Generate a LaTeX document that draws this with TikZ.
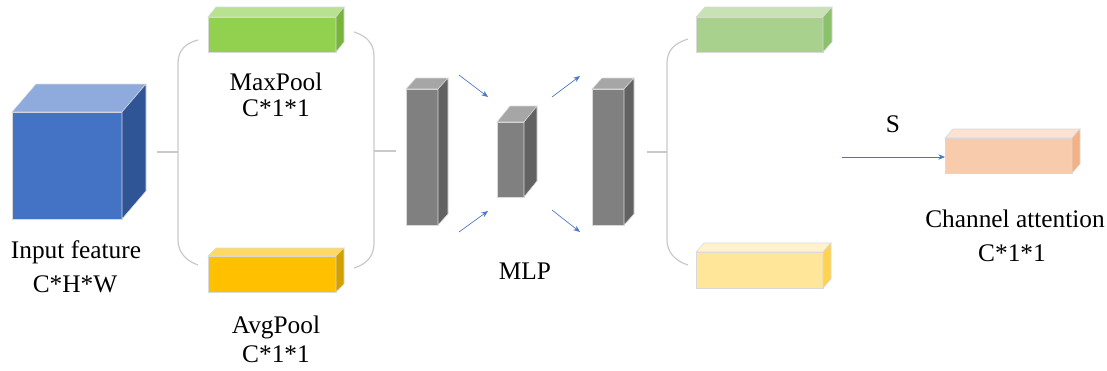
\documentclass[tikz,border=0pt]{standalone}
\usepackage{fontspec}
\setmainfont{Liberation Serif}
\usetikzlibrary{arrows.meta,calc}
\definecolor{bluef}{HTML}{4472C4}\definecolor{bluet}{HTML}{8FAADC}\definecolor{blues}{HTML}{2F5597}
\definecolor{greenf}{HTML}{92D050}\definecolor{greent}{HTML}{B8E28F}\definecolor{greens}{HTML}{76B43A}
\definecolor{orangef}{HTML}{FFC000}\definecolor{oranget}{HTML}{FFD966}\definecolor{oranges}{HTML}{D4A000}
\definecolor{grayf}{HTML}{808080}\definecolor{grayt}{HTML}{A6A6A6}\definecolor{grays}{HTML}{626262}
\definecolor{lgreenf}{HTML}{A9D18E}\definecolor{lgreent}{HTML}{C8E2B6}\definecolor{lgreens}{HTML}{8BC16A}
\definecolor{lyellowf}{HTML}{FFE699}\definecolor{lyellowt}{HTML}{FFF2CC}\definecolor{lyellows}{HTML}{FFD34F}
\definecolor{peachf}{HTML}{F8CBAD}\definecolor{peacht}{HTML}{FBE2D2}\definecolor{peachs}{HTML}{F4B183}
\definecolor{brk}{HTML}{C9C9C9}
\definecolor{arr}{HTML}{4A74C6}
\newcommand\cub[8]{%
  \node[face, fill=#1f, anchor=north west, minimum width={(#4-#2)*0.75pt}, minimum height={(#5-#3)*0.75pt}] (#8) at (#2,#3) {};
  \draw[face, fill=#1t] (#8.north west) -- ++(#6,#7) -- ($(#8.north east)+(#6,#7)$) -- (#8.north east) -- cycle;
  \draw[face, fill=#1s] (#8.north east) -- ($(#8.north east)+(#6,#7)$) -- ($(#8.south east)+(#6,#7)$) -- (#8.south east) -- cycle;
}
\begin{document}
\begin{tikzpicture}[x=0.75pt,y=-0.75pt,
  face/.style={draw=white!85!black, line width=0.4pt, inner sep=0pt, outer sep=0pt},
  brack/.style={draw=brk, line width=0.9pt},
  flow/.style={draw=arr, line width=0.5pt, -{Stealth[length=5pt,width=4pt]}},
  lbl/.style={font=\fontsize{19}{21}\selectfont, anchor=base, inner sep=0pt}]
\useasboundingbox (0,0) rectangle (1107,371);
% cubes
\cub{blue}{12}{112}{122}{219}{24}{-28}{input}
\cub{green}{208}{17}{336}{52}{8}{-10}{maxp}
\cub{orange}{208}{256}{336}{292}{8}{-8}{avgp}
\cub{gray}{406}{89}{438}{225}{10}{-11}{fc1}
\cub{gray}{497}{122}{524}{197}{13}{-16}{fc2}
\cub{gray}{592}{89}{624}{225}{10}{-11}{fc3}
\cub{lgreen}{696}{17}{823}{52}{9}{-10}{outm}
\cub{lyellow}{696}{252}{823}{288}{8}{-9}{outa}
\cub{peach}{945}{138}{1072}{173}{8}{-9}{att}
% brackets
\coordinate (b1s) at (157,152);
\coordinate (b1m) at (178,152);
\draw[brack] (198,40) .. controls (186,43) and (178,50) .. (178,63) -- (178,240) .. controls (178,252) and (186,261) .. (198,265);
\draw[brack] (b1s) -- (b1m);
\coordinate (b2m) at (374,151);
\coordinate (b2e) at (396,151);
\draw[brack] (354,32) .. controls (367,36) and (374,44) .. (374,56) -- (374,243) .. controls (374,256) and (367,264) .. (354,268);
\draw[brack] (b2m) -- (b2e);
\coordinate (b3s) at (647,152);
\coordinate (b3m) at (667,152);
\draw[brack] (688,39) .. controls (675,43) and (667,50) .. (667,63) -- (667,240) .. controls (667,252) and (675,261) .. (688,265);
\draw[brack] (b3s) -- (b3m);
% MLP arrows
\coordinate (a1s) at (459,75); \coordinate (a1e) at (488,97);
\coordinate (a2s) at (459,232); \coordinate (a2e) at (488,211);
\coordinate (a3s) at (552,97); \coordinate (a3e) at (580,76);
\coordinate (a4s) at (552,210); \coordinate (a4e) at (580,232);
\draw[flow] (a1s) -- (a1e);
\draw[flow] (a2s) -- (a2e);
\draw[flow] (a3s) -- (a3e);
\draw[flow] (a4s) -- (a4e);
% S arrow
\coordinate (ss) at (842,157);
\draw[flow] (ss) -- (ss -| att.west);
% labels
\node[lbl] (t1) at (76,258) {Input feature};
\node[lbl] (t2) at (75,292) {C*H*W};
\node[lbl] (t3) at (276,90) {MaxPool};
\node[lbl] (t4) at (276,116) {C*1*1};
\node[lbl] (t5) at (276,333) {AvgPool};
\node[lbl] (t6) at (276,362) {C*1*1};
\node[lbl] (t7) at (525,279) {MLP};
\node[lbl] (t8) at (893,132) {S};
\node[lbl] (t9) at (1015,227) {Channel attention};
\node[lbl] (t10) at (1012,261) {C*1*1};
\end{tikzpicture}
\end{document}
